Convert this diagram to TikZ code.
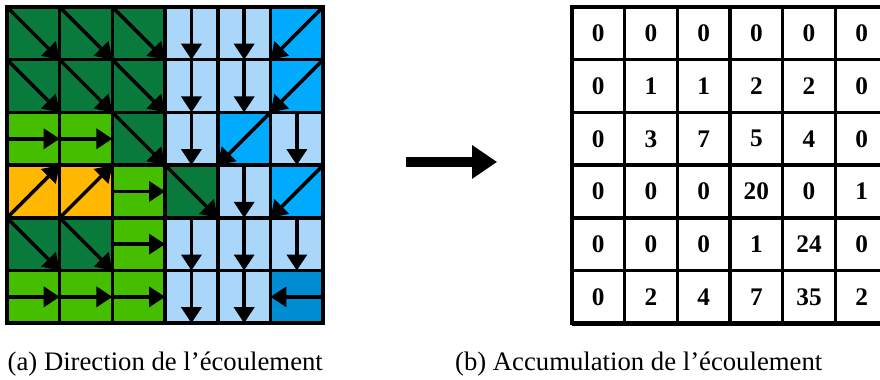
\documentclass[tikz,border=0pt]{standalone}
\usepackage{fontspec}
\setmainfont{Liberation Serif}
\usetikzlibrary{arrows.meta}

\definecolor{dkgreen}{RGB}{10,122,60}
\definecolor{ltgreen}{RGB}{70,190,0}
\definecolor{amber}{RGB}{255,183,0}
\definecolor{paleblue}{RGB}{170,214,250}
\definecolor{midblue}{RGB}{0,170,255}
\definecolor{deepblue}{RGB}{0,140,210}

\tikzset{
  flow/.style={line width=0.035cm, -{Triangle[length=0.16cm,width=0.2cm]}},
  cellline/.style={line width=0.035cm, line cap=rect},
  caption/.style={anchor=base west, inner sep=0pt, font=\fontsize{7.6}{9}\selectfont},
  accval/.style={font=\fontsize{7.2}{8}\selectfont\bfseries}
}

\begin{document}
\begin{tikzpicture}[x=0.527cm, y=-0.527cm]
  \useasboundingbox (-0.133,-0.133) rectangle (16.566,7.059);

  % (a) flow directions
  \foreach \c/\r in {0/0,1/0,2/0,0/1,1/1,2/1,2/2,3/3,0/4,1/4} {
    \fill[dkgreen] (\c,\r) rectangle ++(1,1);
    \draw[flow] (\c,\r) -- ++(1,1);
  }
  \foreach \c/\r in {3/0,4/0,3/1,4/1,3/2,5/2,4/3,3/4,4/4,5/4,3/5,4/5} {
    \fill[paleblue] (\c,\r) rectangle ++(1,1);
    \draw[flow] (\c+0.5,\r) -- ++(0,1);
  }
  \foreach \c/\r in {5/0,5/1,4/2,5/3} {
    \fill[midblue] (\c,\r) rectangle ++(1,1);
    \draw[flow] (\c+1,\r) -- ++(-1,1);
  }
  \foreach \c/\r in {0/2,1/2,2/3,2/4,0/5,1/5,2/5} {
    \fill[ltgreen] (\c,\r) rectangle ++(1,1);
    \draw[flow] (\c,\r+0.5) -- ++(1,0);
  }
  \foreach \c/\r in {0/3,1/3} {
    \fill[amber] (\c,\r) rectangle ++(1,1);
    \draw[flow] (\c,\r+1) -- ++(1,-1);
  }
  \fill[deepblue] (5,5) rectangle ++(1,1);
  \draw[flow] (6,5.5) -- ++(-1,0);

  \foreach \i in {0,...,6} {
    \draw[cellline] (\i,0) -- (\i,6);
    \draw[cellline] (0,\i) -- (6,\i);
  }

  % arrow between the two grids
  \coordinate (from) at (7.57,2.94);
  \coordinate (to) at (9.30,2.94);
  \draw[line width=0.1cm, -{Triangle[length=0.25cm,width=0.32cm]}] (from) -- (to);

  % (b) flow accumulation
  \begin{scope}[shift={(10.72,0)}]
    \foreach \row [count=\r from 0] in {{0,0,0,0,0,0},{0,1,1,2,2,0},{0,3,7,5,4,0},
        {0,0,0,20,0,1},{0,0,0,1,24,0},{0,2,4,7,35,2}} {
      \foreach \v [count=\c from 0] in \row
        \node[accval] (v\r\c) at (\c+0.5,\r+0.5) {\v};
    }
    \foreach \i in {0,...,6} {
      \draw[cellline] (\i,0) -- (\i,6);
      \draw[cellline] (0,\i) -- (6,\i);
    }
    \draw[line width=0.05cm] (0,6) -- (6,6);
  \end{scope}

  \node[caption] (capa) at (0,6.888) {(a) Direction de l’écoulement};
  \node[caption, anchor=base east] (capb) at (15.484,6.888) {(b) Accumulation de l’écoulement};
\end{tikzpicture}
\end{document}
